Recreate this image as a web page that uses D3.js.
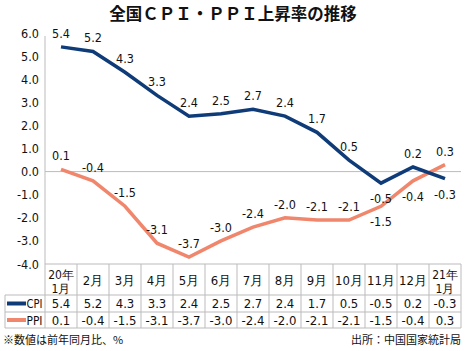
<!DOCTYPE html>
<html>
<head>
<meta charset="utf-8">
<script src="https://cdn.jsdelivr.net/npm/d3@7"></script>
<style>
  body { margin: 0; background: #fff; }
  svg { display: block; }
  .num { font-family: "Liberation Sans Narrow", "DejaVu Sans Condensed", sans-serif; fill: #111; }
  .jp { font-family: "Noto Sans CJK JP", sans-serif; fill: #111; }
</style>
</head>
<body>
<div id="chart"></div>
<script>
const months = ['20年|1月', '2月', '3月', '4月', '5月', '6月', '7月', '8月', '9月', '10月', '11月', '12月', '21年|1月']
const cpi = [5.4, 5.2, 4.3, 3.3, 2.4, 2.5, 2.7, 2.4, 1.7, 0.5, -0.5, 0.2, -0.3]
const ppi = [0.1, -0.4, -1.5, -3.1, -3.7, -3.0, -2.4, -2.0, -2.1, -2.1, -1.5, -0.4, 0.3]
const yTicks = [6, 5, 4, 3, 2, 1, 0, -1, -2, -3, -4]
// label below the point?
const cpiBelow = [10, 12]
const ppiBelow = [10, 11]

const width = 465
const height = 351

const svg = d3.create('svg')
    .attr('width', width)
    .attr('height', height)
    .attr('viewBox', [0, 0, width, height])

const x0 = 45, x1 = 461
const band = d3.scaleBand()
    .domain(d3.range(months.length))
    .range([x0, x1])
    .paddingInner(0)

const cx = i => band(i) + band.bandwidth() / 2

const y = d3.scaleLinear()
    .domain([-4, 6])
    .range([264, 33])

/* title */
svg.append('text')
    .attr('class', 'jp')
    .attr('x', 233)
    .attr('y', 20)
    .attr('text-anchor', 'middle')
    .attr('font-size', 16.5)
    .attr('font-weight', 'bold')
    .text('全国ＣＰＩ・ＰＰＩ上昇率の推移')

/* y axis labels */
svg.append('g').selectAll('text')
    .data(yTicks)
    .enter()
    .append('text')
    .attr('class', 'num')
    .attr('x', 39)
    .attr('y', d => y(d) + 4.5)
    .attr('text-anchor', 'end')
    .attr('font-size', 12.5)
    .text(d => d.toFixed(1))

/* axis line and zero line */
svg.append('line')
    .attr('x1', x0).attr('x2', x0)
    .attr('y1', 36).attr('y2', y(-4))
    .attr('stroke', '#bbb')
svg.append('line')
    .attr('x1', x0).attr('x2', x1)
    .attr('y1', y(0)).attr('y2', y(0))
    .attr('stroke', '#bbb')

/* lines */
const line = d3.line()
    .x((d, i) => cx(i))
    .y(d => y(d))

const cpiColor = '#0f3c78'
const ppiColor = '#f0866c'

svg.append('path')
    .datum(ppi)
    .attr('d', line)
    .attr('fill', 'none')
    .attr('stroke', ppiColor)
    .attr('stroke-width', 3.5)

svg.append('path')
    .datum(cpi)
    .attr('d', line)
    .attr('fill', 'none')
    .attr('stroke', cpiColor)
    .attr('stroke-width', 3.5)

const drawLabels = (values, below) => {
    svg.append('g').selectAll('text')
        .data(values)
        .enter()
        .append('text')
        .attr('class', 'num')
        .attr('x', (d, i) => cx(i))
        .attr('y', (d, i) => below.includes(i) ? y(d) + 20 : y(d) - 9)
        .attr('text-anchor', 'middle')
        .attr('font-size', 12.5)
        .text(d => d.toFixed(1))
}
drawLabels(cpi, cpiBelow)
drawLabels(ppi, ppiBelow)

/* table */
const rowTop = 264, rowHead = 295, rowCpi = 312, rowPpi = 328
const xl = 5
const grid = svg.append('g').attr('stroke', '#bbb').attr('stroke-width', 1)
grid.append('line').attr('x1', x0).attr('x2', x1).attr('y1', rowTop).attr('y2', rowTop)
;[rowHead, rowCpi, rowPpi].forEach(ry => {
    grid.append('line').attr('x1', xl).attr('x2', x1).attr('y1', ry).attr('y2', ry)
})
grid.append('line').attr('x1', xl).attr('x2', xl).attr('y1', rowHead).attr('y2', rowPpi)
d3.range(months.length + 1).forEach(i => {
    const xx = i < months.length ? band(i) : x1
    grid.append('line').attr('x1', xx).attr('x2', xx).attr('y1', rowTop).attr('y2', rowPpi)
})

/* header months */
months.forEach((m, i) => {
    const parts = m.split('|')
    if (parts.length === 2) {
        parts.forEach((p, k) => {
            svg.append('text')
                .attr('class', 'num')
                .attr('text-anchor', 'middle')
                .attr('font-size', 12)
                .attr('x', cx(i))
                .attr('y', 278.5 + k * 14)
                .text(p)
        })
    } else {
        svg.append('text')
            .attr('class', 'num')
            .attr('text-anchor', 'middle')
            .attr('font-size', 13)
            .attr('x', cx(i))
            .attr('y', 285)
            .text(parts[0])
    }
})

/* value rows */
const drawRow = (values, yy) => {
    svg.append('g').selectAll('text')
        .data(values)
        .enter()
        .append('text')
        .attr('class', 'num')
        .attr('x', (d, i) => cx(i))
        .attr('y', yy)
        .attr('text-anchor', 'middle')
        .attr('font-size', 13)
        .text(d => d.toFixed(1))
}
drawRow(cpi, 308)
drawRow(ppi, 324.5)

/* legend in table */
const legend = [
    { name: 'CPI', color: cpiColor, y: (rowHead + rowCpi) / 2 },
    { name: 'PPI', color: ppiColor, y: (rowCpi + rowPpi) / 2 }
]
legend.forEach(l => {
    svg.append('line')
        .attr('x1', 7).attr('x2', 26)
        .attr('y1', l.y).attr('y2', l.y)
        .attr('stroke', l.color)
        .attr('stroke-width', 4)
    svg.append('text')
        .attr('class', 'num')
        .attr('x', 26.5)
        .attr('y', l.y + 4.5)
        .attr('font-size', 12)
        .attr('textLength', 16)
        .attr('lengthAdjust', 'spacingAndGlyphs')
        .text(l.name)
})

/* footnotes */
svg.append('text')
    .attr('class', 'jp')
    .attr('x', 3)
    .attr('y', 344)
    .attr('font-size', 11)
    .text('※数値は前年同月比、%')
svg.append('text')
    .attr('class', 'jp')
    .attr('x', 461)
    .attr('y', 344)
    .attr('text-anchor', 'end')
    .attr('font-size', 11)
    .text('出所：中国国家統計局')

document.getElementById('chart').appendChild(svg.node())
</script>
</body>
</html>
